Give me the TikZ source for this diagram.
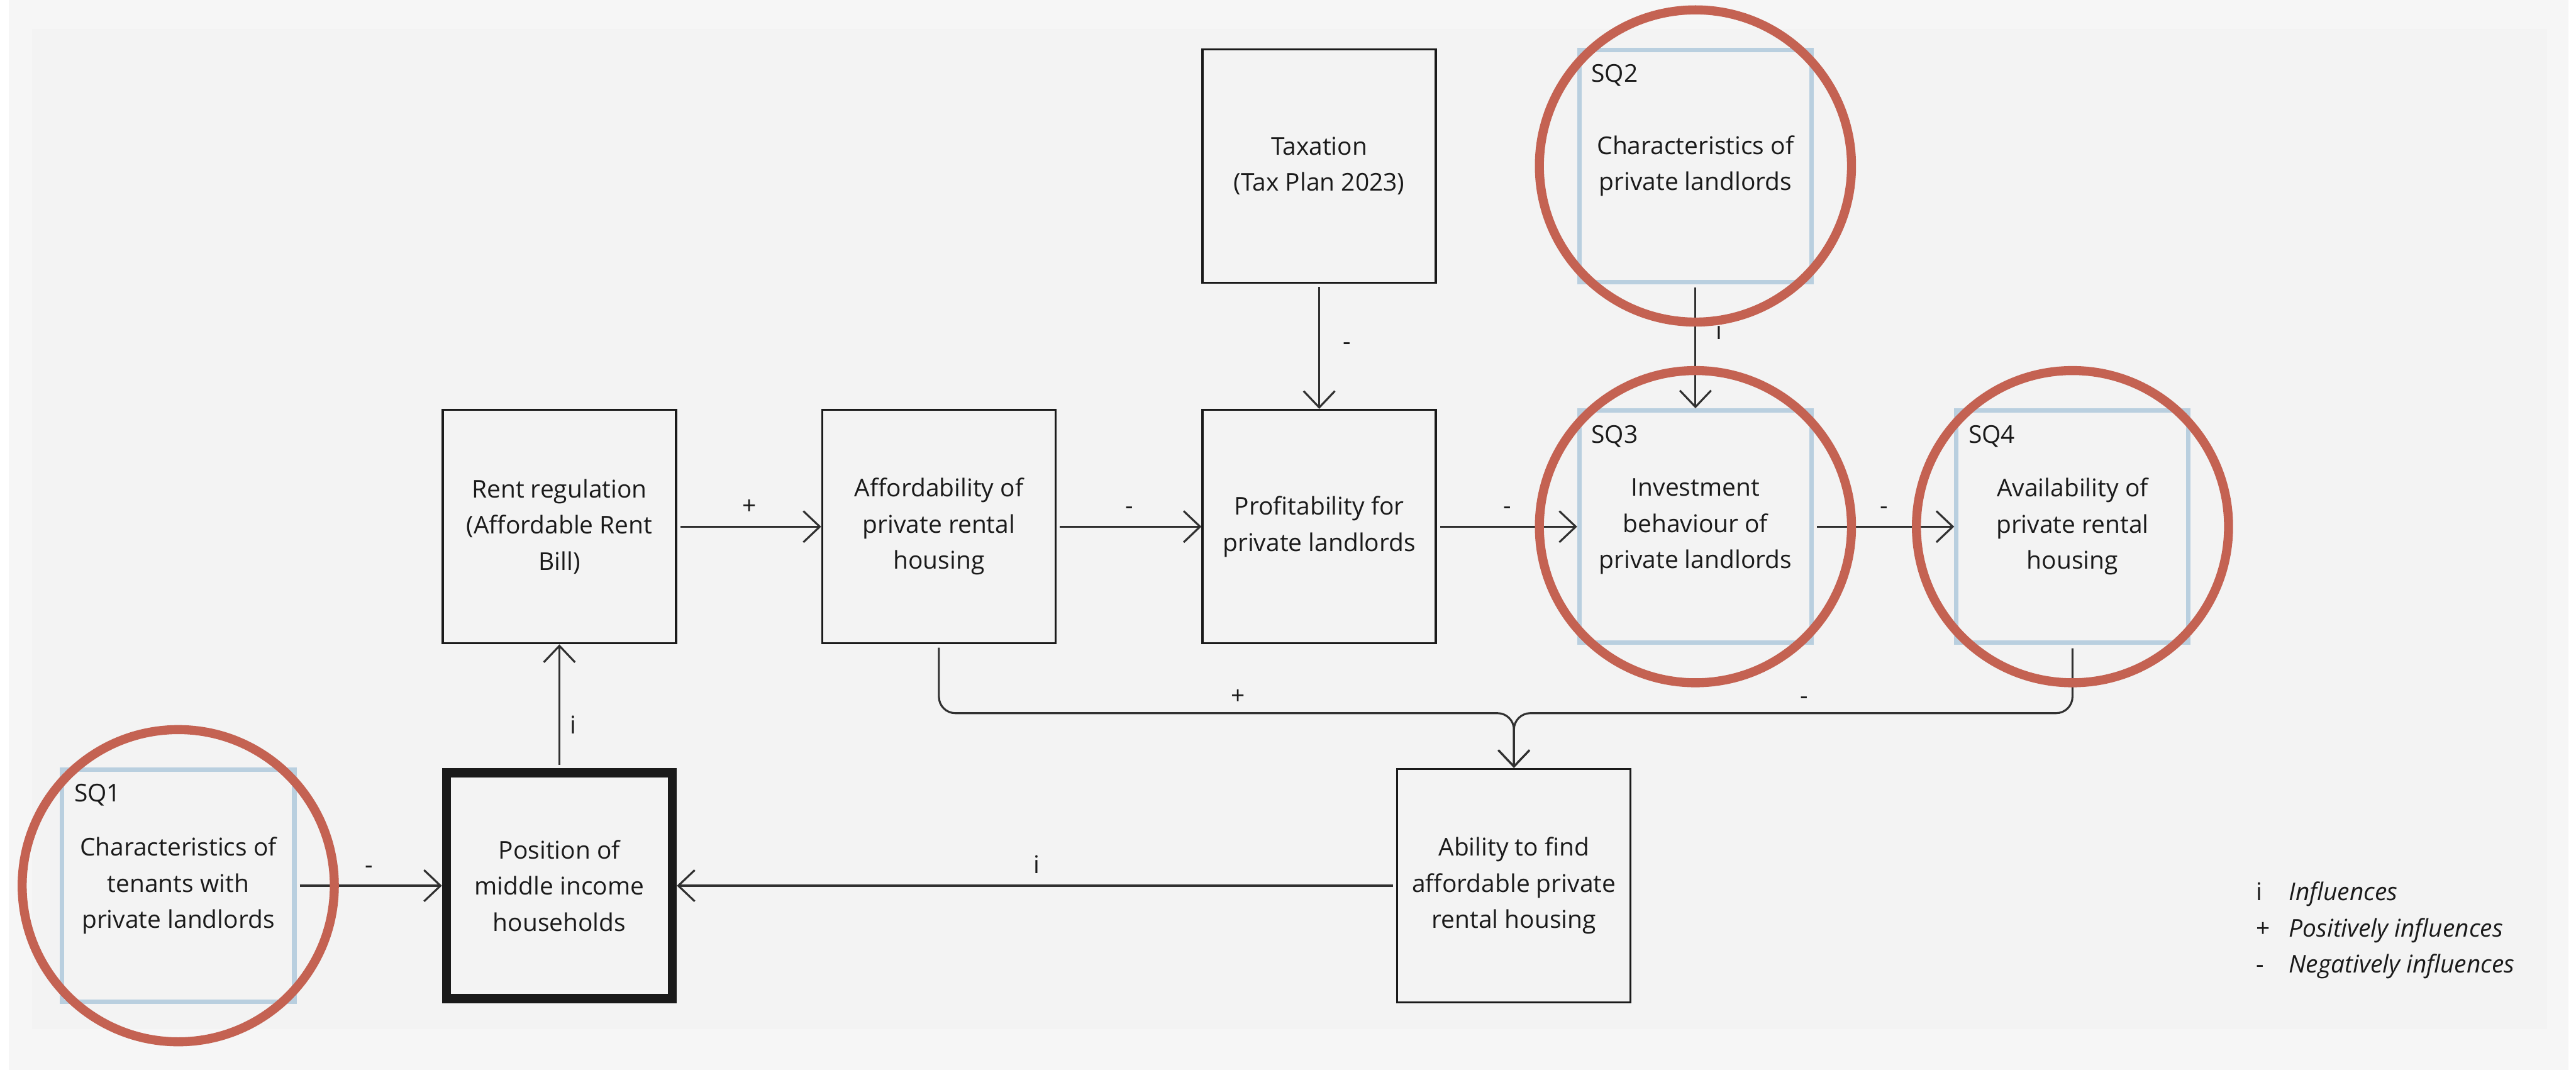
\documentclass[tikz,border=0pt]{standalone}
\usepackage{fontspec}
\setmainfont{Open Sans}
\usepackage{tikz}
\usetikzlibrary{arrows.meta,positioning,calc}

\definecolor{outerbg}{HTML}{F6F6F6}
\definecolor{panel}{HTML}{F3F3F3}
\definecolor{sqblue}{HTML}{B9CFDF}
\definecolor{ringred}{HTML}{C46252}
\definecolor{ink}{HTML}{1A1A1A}
\definecolor{wire}{HTML}{303030}

\begin{document}
\begin{tikzpicture}[
        x=1pt, y=-1pt,
        every node/.style={color=ink, font=\fontsize{14.9}{22}\selectfont},
        var/.style={draw=ink, line width=1.3pt, minimum width=142pt,
            minimum height=142pt, align=center, inner sep=0pt},
        keyvar/.style={var, line width=5.5pt, minimum width=137.5pt,
            minimum height=137.5pt},
        sq/.style={var, draw=sqblue, line width=2.7pt, minimum width=141.3pt,
            minimum height=141.3pt},
        tag/.style={anchor=north west, inner sep=0pt},
        link/.style={draw=wire, line width=1.2pt, shorten <=2pt,
            -{Straight Barb[length=10pt,width=19pt]}},
        sign/.style={inner sep=0pt},
        ring/.style={draw=ringred, line width=5.5pt},
    ]
    \useasboundingbox (0,0) rectangle (1568,651);
    % background
    \fill[outerbg] (5.4,0) rectangle (1563.2,651);
    \fill[panel] (19.6,17.6) rectangle (1550.4,626.4);

    % variables
    \node[var] (tax) at (803,101) {Taxation\\(Tax Plan 2023)};
    \node[sq] (sq2) at (1032,101) {Characteristics of\\private landlords};
    \node[var] (rent) at (340.5,320.5) {Rent regulation\\(Affordable Rent\\Bill)};
    \node[var] (afford) at (571.5,320.5) {Affordability of\\private rental\\housing};
    \node[var] (profit) at (803,320.5) {Profitability for\\private landlords};
    \node[sq] (sq3) at (1032,320.5) {Investment\\behaviour of\\private landlords};
    \node[sq] (sq4) at (1261.5,320.5) {Availability of\\private rental\\housing};
    \node[sq] (sq1) at (108.5,539) {Characteristics of\\tenants with\\private landlords};
    \node[keyvar] (pos) at (340.5,539) {Position of\\middle income\\households};
    \node[var] (ability) at (921.5,539) {Ability to find\\affordable private\\rental housing};

    % sub-question tags
    \node[tag] (sq1tag) at ([shift={(8.5,10)}]sq1.north west) {SQ1};
    \node[tag] (sq2tag) at ([shift={(8.5,10)}]sq2.north west) {SQ2};
    \node[tag] (sq3tag) at ([shift={(8.5,10)}]sq3.north west) {SQ3};
    \node[tag] (sq4tag) at ([shift={(8.5,10)}]sq4.north west) {SQ4};

    % influences
    \draw[link] (rent) -- node[sign, above=7pt] {+} (afford);
    \draw[link] (afford) -- node[sign, above=7pt] {-} (profit);
    \draw[link] (profit) -- node[sign, above=7pt] {-} (sq3);
    \draw[link] (sq3) -- node[sign, above=7pt] {-} (sq4);
    \draw[link] (tax) -- node[sign, right=14pt] {-} (profit);
    \draw[link] (sq2) -- node[sign, pos=0.37, right=12pt] {i} (sq3);
    \draw[link] (pos) -- node[sign, pos=0.35, right=6pt] {i} (rent);
    \draw[link] (sq1) -- node[sign, above=7pt] {-} (pos);
    \draw[link] (ability) -- node[sign, above=7pt] {i} (pos);
    \coordinate (merge) at (921.5,434);
    \draw[link, rounded corners=10pt] (afford.south) |- node[sign, pos=0.76, above=5pt] {+} (merge) -- (ability.north);
    \draw[link, rounded corners=10pt] (sq4.south) |- node[sign, pos=0.74, above=5pt] {-} (merge) -- (ability.north);

    % rings round the sub-questions
    \foreach \q in {sq1,sq2,sq3,sq4}
        \draw[ring] (\q.center) circle[radius=95];

    % legend
    \node[anchor=base west, inner sep=0pt] (legend) at (1373,548) {%
        \begin{tabular}[t]{@{}l@{\hspace{11.5pt}}l@{}}
            i & \textit{Influences}\\
            + & \textit{Positively influences}\\
            - & \textit{Negatively influences}
        \end{tabular}};
\end{tikzpicture}
\end{document}
